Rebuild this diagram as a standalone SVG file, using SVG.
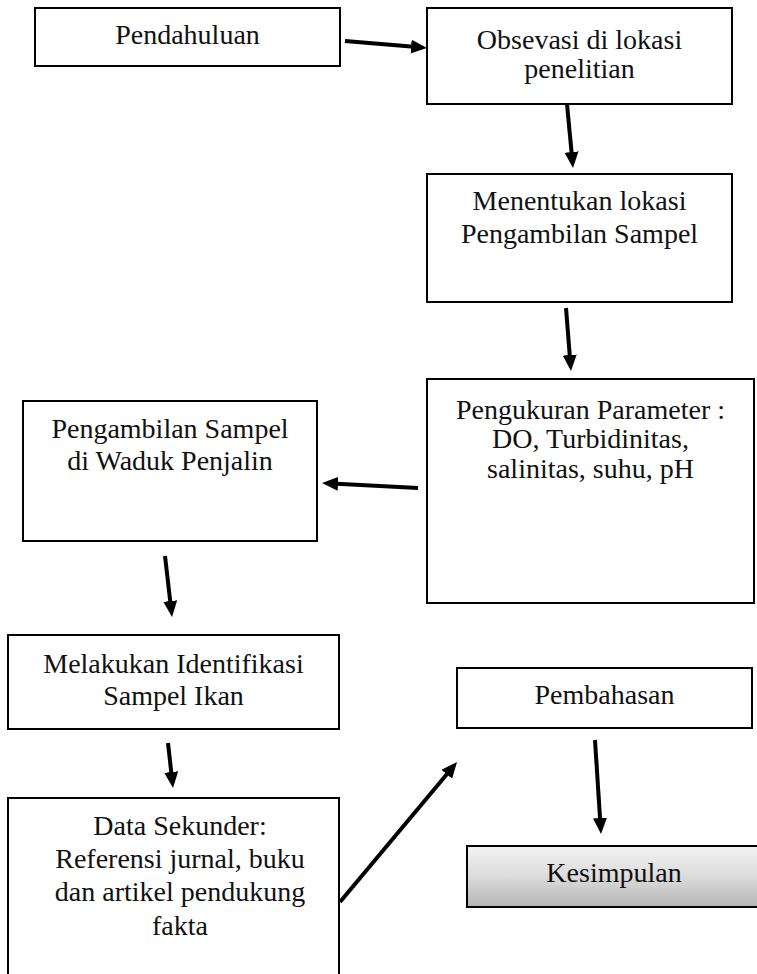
<svg xmlns="http://www.w3.org/2000/svg" width="757" height="974" viewBox="0 0 757 974">
<style>
.box{fill:#ffffff;stroke:#000000;stroke-width:2}
.lbl{font-family:"Liberation Serif","Times New Roman",serif;font-size:28px;fill:#111111;text-anchor:middle}
.arr{fill:none;stroke:#000000;stroke-width:4;marker-end:url(#ah)}
</style>
<defs>
<marker id="ah" viewBox="0 0 16 14" refX="6" refY="7" markerWidth="16" markerHeight="14" markerUnits="userSpaceOnUse" orient="auto">
<path d="M0,0 L16,7 L0,14 z" fill="#000000"/>
</marker>
<linearGradient id="gk" x1="0" y1="0" x2="0" y2="1">
<stop offset="0" stop-color="#f2f2f2"/>
<stop offset="0.5" stop-color="#dcdcdc"/>
<stop offset="1" stop-color="#b5b5b5"/>
</linearGradient>
</defs>
<rect width="757" height="974" fill="#ffffff"/>
<g id="pendahuluan">
<rect class="box" x="35" y="8" width="305" height="58"/>
<text class="lbl" x="187.5" y="44">Pendahuluan</text>
</g>
<g id="obsevasi">
<rect class="box" x="427" y="8" width="305" height="96"/>
<text class="lbl" x="579.5" y="49">Obsevasi di lokasi</text>
<text class="lbl" x="579.5" y="78">penelitian</text>
</g>
<g id="menentukan">
<rect class="box" x="427" y="174" width="305" height="128"/>
<text class="lbl" x="579.5" y="210">Menentukan lokasi</text>
<text class="lbl" x="579.5" y="243">Pengambilan Sampel</text>
</g>
<g id="pengukuran">
<rect class="box" x="427" y="379" width="327" height="224"/>
<text class="lbl" x="590.5" y="419">Pengukuran Parameter :</text>
<text class="lbl" x="590.5" y="448">DO, Turbidinitas,</text>
<text class="lbl" x="590.5" y="478">salinitas, suhu, pH</text>
</g>
<g id="pengambilan">
<rect class="box" x="23" y="401" width="294" height="140"/>
<text class="lbl" x="170" y="438">Pengambilan Sampel</text>
<text class="lbl" x="170" y="470">di Waduk Penjalin</text>
</g>
<g id="identifikasi">
<rect class="box" x="8" y="635" width="331" height="94"/>
<text class="lbl" x="173.5" y="673">Melakukan Identifikasi</text>
<text class="lbl" x="173.5" y="705">Sampel Ikan</text>
</g>
<g id="datasekunder">
<rect class="box" x="8" y="798" width="331" height="190"/>
<text class="lbl" x="180" y="835">Data Sekunder:</text>
<text class="lbl" x="180" y="868">Referensi jurnal, buku</text>
<text class="lbl" x="180" y="901">dan artikel pendukung</text>
<text class="lbl" x="180" y="935">fakta</text>
</g>
<g id="pembahasan">
<rect class="box" x="457" y="668" width="295" height="60"/>
<text class="lbl" x="604.5" y="704">Pembahasan</text>
</g>
<g id="kesimpulan">
<rect x="467" y="846" width="300" height="61" fill="url(#gk)" stroke="#000000" stroke-width="2"/>
<text class="lbl" x="614" y="882">Kesimpulan</text>
</g>
<g id="connectors">
<path class="arr" d="M345,41 L417,47.1"/>
<path class="arr" d="M567,104 L572.1,158"/>
<path class="arr" d="M566,308 L570.2,361"/>
<path class="arr" d="M418,488 L332,483.5"/>
<path class="arr" d="M165,556 L170.9,607"/>
<path class="arr" d="M168,743 L171.9,778"/>
<path class="arr" d="M340,902 L450.6,769.7"/>
<path class="arr" d="M595,740 L600.4,824"/>
</g>
</svg>
